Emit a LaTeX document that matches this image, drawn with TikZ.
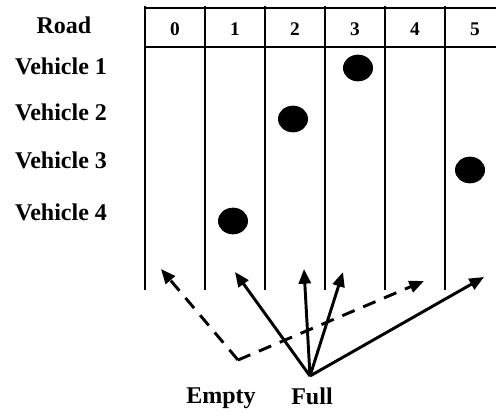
\documentclass[tikz,border=0pt]{standalone}
\usepackage{fontspec}
\setmainfont{Liberation Serif}
\usepackage{tikz}
\usetikzlibrary{arrows.meta,calc,positioning,shapes.geometric}

\tikzset{
	lbl/.style={font=\fontsize{18}{20}\selectfont\bfseries, anchor=base, inner sep=0pt},
	num/.style={font=\fontsize{14.5}{16}\selectfont\bfseries, anchor=base, inner sep=0pt},
	car/.style={ellipse, fill=black, inner sep=0pt, minimum width=22.5pt, minimum height=20pt},
	grid/.style={line width=1.5pt},
	mv/.style={line width=2.2pt, -{Triangle[length=11pt,width=9pt]}},
	emv/.style={mv, dash pattern=on 10pt off 7pt}
}

\begin{document}
\begin{tikzpicture}[x=0.75pt,y=-0.75pt]
			\useasboundingbox (0,0) rectangle (496,411);
			% road header and lanes
			\draw[grid] (145,8) to (496,8);
			\draw[grid] (145,47) to (496,47);
			\foreach \i in {0,...,5} {
				\draw[grid] ({145+60*\i},6) to ({145+60*\i},290);
				\node[num] (r\i) at ({175+60*\i},35) {\i};
			}
			% labels
			\node[lbl] (road) at (64,33) {Road};
			\node[lbl] (l1) at (61,74) {Vehicle 1};
			\node[lbl] (l2) at (61,120) {Vehicle 2};
			\node[lbl] (l3) at (61,168) {Vehicle 3};
			\node[lbl] (l4) at (61,220) {Vehicle 4};
			% vehicles
			\node[car] (v1) at (358,68) {};
			\node[car] (v2) at (293,119) {};
			\node[car] (v3) at (470,170) {};
			\node[car] (v4) at (233,221) {};
			% moves
			\coordinate (full) at (310,376);
			\coordinate (empty) at (238,360);
			\coordinate (f1) at (235,272);
			\coordinate (f2) at (304,269);
			\coordinate (f3) at (343,272);
			\coordinate (f4) at (484,277);
			\coordinate (e1) at (161,269);
			\coordinate (e2) at (424,281);
			\draw[emv] (empty) to (e1);
			\draw[emv] (empty) to (e2);
			\draw[mv] (full) to (f1);
			\draw[mv] (full) to (f2);
			\draw[mv] (full) to (f3);
			\draw[mv] (full) to (f4);
			\node[lbl] (elbl) at (221,403) {Empty};
			\node[lbl] (flbl) at (312,404) {Full};
\end{tikzpicture}
\end{document}
